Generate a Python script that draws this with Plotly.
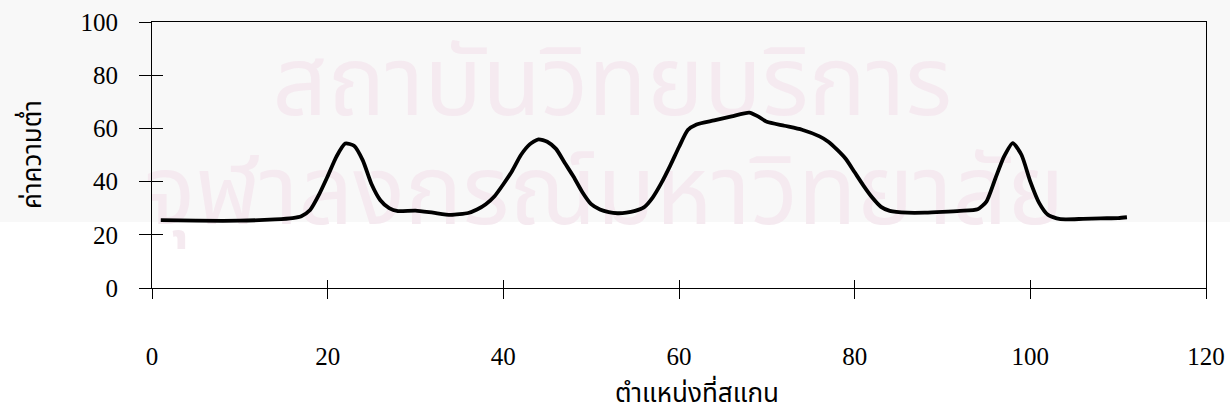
import plotly.graph_objects as go

# scan position (x) and value (y)
scan_pos = [1, 5, 10, 14, 16, 17, 18, 19, 20, 21, 22, 23, 24, 25, 26, 27, 28, 30, 32, 34,
            36, 37, 38, 39, 40, 41, 42, 43, 44, 45, 46, 47, 48, 49, 50, 51, 52, 53, 54, 55,
            56, 57, 58, 59, 60, 61, 62, 64, 66, 68, 69, 70, 72, 74, 76, 77, 78, 79, 80, 81,
            82, 83, 84, 86, 88, 90, 92, 94, 95, 96, 97, 98, 99, 100, 101, 102, 103, 104, 106,
            108, 110, 111]
values = [25.5, 25.3, 25.3, 25.8, 26.3, 27.0, 29.3, 35.0, 42.0, 49.4, 54.3, 53.5, 48.0, 39.0,
          33.0, 30.0, 28.9, 29.1, 28.3, 27.5, 28.2, 29.5, 31.5, 34.5, 39.0, 44.0, 50.0, 54.0,
          55.9, 55.0, 52.3, 47.0, 41.8, 36.0, 31.5, 29.5, 28.5, 28.1, 28.3, 29.0, 30.3, 34.0,
          39.5, 46.0, 53.0, 59.4, 61.5, 63.0, 64.5, 65.9, 64.5, 62.5, 61.0, 59.5, 57.0, 55.0,
          52.0, 48.5, 43.5, 38.5, 34.0, 30.5, 29.0, 28.3, 28.3, 28.6, 29.0, 29.6, 32.5, 41.0,
          49.4, 54.5, 50.0, 40.0, 32.0, 27.5, 26.2, 25.8, 26.0, 26.2, 26.3, 26.6]

x_ticks = [0, 20, 40, 60, 80, 100, 120]
y_ticks = [0, 20, 40, 60, 80, 100]

x_title = "ตำแหน่งที่สแกน"
y_title = "ค่าความต่ำ"
watermark = ["สถาบันวิทยบริการ", "จุฬาลงกรณ์มหาวิทยาลัย"]

SERIF = "Liberation Serif, Times New Roman, serif"
THAI = "Noto Sans Thai, Loma, Garuda, Noto Sans, DejaVu Sans, sans-serif"

fig = go.Figure()

# watermark (decoration, drawn beneath the curve)
fig.add_trace(go.Scatter(
    x=[52.4, 51.5], y=[74, 33], mode="text", text=watermark,
    textfont=dict(family=THAI, size=96, color="#f5eaf0"),
    cliponaxis=False, hoverinfo="skip", showlegend=False))

fig.add_trace(go.Scatter(
    x=scan_pos, y=values, mode="lines",
    line=dict(color="black", width=3.8, shape="spline", smoothing=0.6),
    showlegend=False))

axis_common = dict(showgrid=False, zeroline=False, showline=True, linecolor="black",
                   linewidth=1, mirror=True, tickcolor="black", tickwidth=1,
                   automargin=False)

fig.update_layout(
    width=1230, height=414,
    margin=dict(l=152, r=24, t=22, b=126),
    paper_bgcolor="white", plot_bgcolor="rgba(0,0,0,0)",
    xaxis=dict(range=[0, 120], tickvals=x_ticks, ticks="outside", ticklen=10,
               ticklabelstandoff=36,
               tickfont=dict(family=SERIF, size=25, color="black"), **axis_common),
    yaxis=dict(range=[0, 100], tickvals=y_ticks, ticks="outside", ticklen=12,
               ticklabelstandoff=16,
               tickfont=dict(family=SERIF, size=25, color="black"), **axis_common),
    xaxis2=dict(range=[0, 120], overlaying="x", tickvals=x_ticks, ticks="inside",
                ticklen=8, showticklabels=False, showgrid=False, zeroline=False,
                side="bottom", tickcolor="black", automargin=False),
    yaxis2=dict(range=[0, 100], overlaying="y", tickvals=y_ticks, ticks="inside",
                ticklen=11, showticklabels=False, showgrid=False, zeroline=False,
                side="left", tickcolor="black", automargin=False),
    shapes=[dict(type="rect", xref="paper", yref="paper", x0=-0.2, x1=1.05,
                 y0=(288 - 222) / 266, y1=1.2, fillcolor="#f8f8f8", line_width=0,
                 layer="below")],
    annotations=[
        dict(text=x_title, xref="paper", yref="paper", x=(697 - 152) / 1054,
             y=(288 - 394) / 266, xanchor="center", yanchor="middle", showarrow=False,
             font=dict(family=THAI, size=26, color="black")),
        dict(text=y_title, xref="paper", yref="paper", x=(33 - 152) / 1054, y=0.5,
             textangle=-90, xanchor="center", yanchor="middle", showarrow=False,
             font=dict(family=THAI, size=26, color="black")),
    ],
)

# invisible trace to activate the overlay axes for cross ticks
fig.add_trace(go.Scatter(x=[None], y=[None], xaxis="x2", yaxis="y2", showlegend=False,
                         hoverinfo="skip"))

fig.write_html("out.html")
